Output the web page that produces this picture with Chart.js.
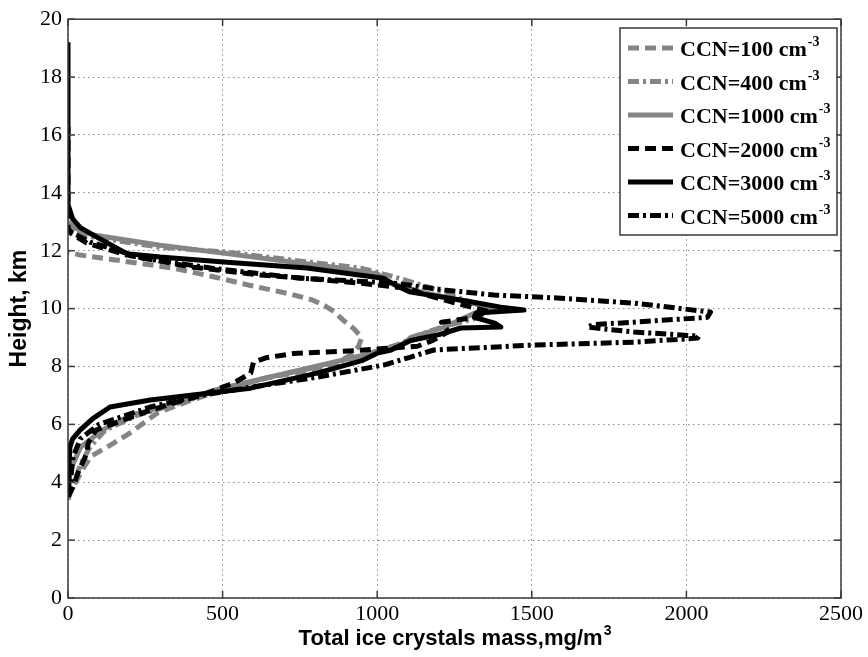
<!DOCTYPE html>
<html>
<head>
<meta charset="utf-8">
<script src="https://cdn.jsdelivr.net/npm/chart.js@4.4.1/dist/chart.umd.min.js"></script>
<style>
  html, body { margin: 0; padding: 0; background: #fff; }
</style>
</head>
<body>
<canvas id="chart" width="868" height="657"></canvas>
<script>
// tick values
var xTicks = [0, 500, 1000, 1500, 2000, 2500];
var yTicks = [0, 2, 4, 6, 8, 10, 12, 14, 16, 18, 20];

// legend labels (CCN concentration, cm^-3)
var ccnValues = ['100', '400', '1000', '2000', '3000', '5000'];

// profiles: height (km) and ice crystal mass (mg/m3)
var h100 = [3.4, 3.7, 4.1, 4.5, 4.9, 5.3, 5.7, 6.05, 6.4, 6.8, 7.2, 7.6, 8.0, 8.4, 8.7, 9.0, 9.3, 9.6, 9.9, 10.1, 10.3, 10.5, 10.8, 11.1, 11.4, 11.7, 11.85, 11.95];
var m100 = [0, 10, 30, 50, 75, 140, 200, 245, 290, 390, 500, 640, 850, 915, 940, 950, 925, 890, 860, 830, 790, 720, 590, 470, 340, 140, 40, 0];

var h400 = [3.5, 4.0, 4.6, 5.2, 5.8, 6.3, 6.8, 7.2, 7.6, 8.0, 8.4, 8.8, 9.0, 9.36, 9.7, 10.0, 10.3, 10.75, 11.1, 11.4, 11.67, 11.95, 12.12, 12.47, 12.6, 12.75];
var m400 = [0, 20, 40, 70, 120, 220, 380, 490, 640, 810, 960, 1080, 1110, 1210, 1330, 1380, 1280, 1163, 1054, 947, 730, 514, 298, 82, 30, 0];

var h1000 = [4.0, 4.6, 5.2, 5.8, 6.3, 6.8, 7.2, 7.6, 8.0, 8.4, 8.8, 9.0, 9.36, 9.84, 10.0, 10.3, 10.6, 10.9, 11.2, 11.4, 11.6, 11.9, 12.19, 12.54, 12.8, 13.0];
var m1000 = [0, 15, 40, 110, 200, 370, 480, 640, 800, 960, 1088, 1108, 1218, 1314, 1380, 1260, 1130, 1040, 1000, 880, 730, 514, 298, 82, 20, 0];

var h2000 = [3.5, 3.83, 4.4, 5.0, 5.35, 5.8, 6.4, 6.7, 7.0, 7.43, 7.77, 8.15, 8.3, 8.45, 8.55, 8.7, 8.9, 9.2, 9.53, 9.66, 9.9, 10.2, 10.5, 10.7, 10.88, 11.05, 11.16, 11.43, 11.85, 12.26, 12.6, 12.8, 16.3];
var m2000 = [0, 16, 35, 61, 65, 90, 244, 330, 430, 536, 591, 600, 640, 730, 930, 1130, 1180, 1230, 1208, 1295, 1360, 1250, 1150, 1100, 946, 761, 622, 405, 191, 61, 10, 0, 0];

var h3000 = [3.9, 4.5, 5.2, 5.5, 5.8, 6.2, 6.6, 6.84, 7.25, 7.77, 8.2, 8.46, 8.57, 8.9, 9.1, 9.33, 9.36, 9.5, 9.7, 9.85, 9.95, 10.05, 10.3, 10.57, 10.8, 11.05, 11.4, 11.6, 11.78, 11.9, 12.54, 12.8, 13.1, 13.4, 13.6, 19.2];
var m3000 = [0, 3, 6, 15, 39, 80, 136, 266, 590, 806, 950, 1000, 1045, 1108, 1200, 1270, 1400, 1380, 1314, 1320, 1475, 1400, 1270, 1108, 1060, 1020, 773, 514, 298, 190, 82, 40, 15, 6, 0, 0];

var h5000 = [3.5, 4.0, 4.87, 5.5, 6.0, 6.6, 7.0, 7.3, 7.63, 8.05, 8.3, 8.57, 8.74, 8.84, 8.98, 9.05, 9.19, 9.36, 9.45, 9.53, 9.7, 9.88, 10.19, 10.36, 10.47, 10.64, 10.88, 11.05, 11.4, 11.74, 12.3, 12.7];
var m5000 = [0, 8, 16, 40, 100, 266, 430, 600, 806, 1021, 1100, 1183, 1507, 1831, 2036, 2040, 1831, 1680, 1700, 1831, 2068, 2078, 1831, 1594, 1378, 1218, 1054, 753, 461, 244, 71, 0];

var GRAY = '#858585';
var BLACK = '#000000';
var DASH = [11, 6];
var DASHDOT = [11, 4, 3, 4];
var SERIF = "'Liberation Serif', 'Times New Roman', serif";
var SANS = "'Liberation Sans', Arial, sans-serif";

Chart.defaults.font.family = SERIF;
Chart.defaults.font.size = 22;
Chart.defaults.color = '#000';

function pts(masses, heights) {
    return masses.map(function(m, i) { return {x: m, y: heights[i]}; });
}

function series(idx, masses, heights, color, dash) {
    return {
        label: 'CCN=' + ccnValues[idx] + ' cm\u207B\u00B3',
        data: pts(masses, heights),
        borderColor: color,
        backgroundColor: color,
        borderWidth: 5,
        borderDash: dash,
        borderCapStyle: 'butt',
        borderJoinStyle: 'round',
        showLine: true,
        pointRadius: 0,
        tension: 0,
        order: 6 - idx
    };
}

// frame, inward ticks, legend and axis titles (MATLAB look)
var decor = {
    id: 'decor',
    afterDraw: function(chart) {
        var ctx = chart.ctx, a = chart.chartArea;
        var xs = chart.scales.x, ys = chart.scales.y;
        ctx.save();

        function seg(x1, y1, x2, y2) {
            ctx.beginPath(); ctx.moveTo(x1, y1); ctx.lineTo(x2, y2); ctx.stroke();
        }

        ctx.strokeStyle = '#3a3a3a';
        ctx.lineWidth = 1.5;
        ctx.setLineDash([]);
        ctx.strokeRect(a.left, a.top, a.right - a.left, a.bottom - a.top);
        xTicks.forEach(function(v) {
            var p = xs.getPixelForValue(v);
            seg(p, a.bottom, p, a.bottom - 7);
            seg(p, a.top, p, a.top + 7);
        });
        yTicks.forEach(function(v) {
            var p = ys.getPixelForValue(v);
            seg(a.left, p, a.left + 7, p);
            seg(a.right, p, a.right - 7, p);
        });

        // legend box
        var bx = 620, by = 28, bw = 217, bh = 207;
        ctx.fillStyle = '#fff';
        ctx.fillRect(bx, by, bw, bh);
        ctx.strokeStyle = '#3a3a3a';
        ctx.lineWidth = 1.5;
        ctx.strokeRect(bx, by, bw, bh);
        chart.data.datasets.forEach(function(ds, i) {
            var yy = 48 + i * 33.5;
            ctx.strokeStyle = ds.borderColor;
            ctx.lineWidth = ds.borderWidth;
            ctx.lineCap = 'butt';
            ctx.setLineDash(ds.borderDash || []);
            seg(628, yy, 673, yy);
            ctx.setLineDash([]);
            ctx.fillStyle = '#000';
            ctx.textBaseline = 'alphabetic';
            ctx.textAlign = 'left';
            ctx.font = 'bold 22px ' + SERIF;
            var base = 'CCN=' + ccnValues[i] + ' cm';
            ctx.fillText(base, 680, yy + 8);
            var w = ctx.measureText(base).width;
            ctx.font = 'bold 14px ' + SERIF;
            ctx.fillText('-3', 680 + w + 1, yy - 2);
        });

        // x title
        ctx.fillStyle = '#000';
        ctx.font = 'bold 22px ' + SANS;
        var xt = 'Total ice crystals mass,mg/m';
        var tw = ctx.measureText(xt).width;
        ctx.font = 'bold 14px ' + SANS;
        var sw = ctx.measureText('3').width;
        var cx = (a.left + a.right) / 2 - (tw + sw) / 2;
        ctx.font = 'bold 22px ' + SANS;
        ctx.textAlign = 'left';
        ctx.fillText(xt, cx, 645);
        ctx.font = 'bold 14px ' + SANS;
        ctx.fillText('3', cx + tw + 1, 635);

        // y title
        ctx.translate(20, (a.top + a.bottom) / 2);
        ctx.rotate(-Math.PI / 2);
        ctx.font = 'bold 23px ' + SANS;
        ctx.textAlign = 'center';
        ctx.textBaseline = 'middle';
        ctx.fillText('Height, km', 0, 0);
        ctx.restore();
    }
};

function plain(v) { return String(v); }

new Chart(document.getElementById('chart').getContext('2d'), {
    type: 'scatter',
    data: {
        datasets: [
            series(0, m100, h100, GRAY, DASH),
            series(1, m400, h400, GRAY, DASHDOT),
            series(2, m1000, h1000, GRAY, []),
            series(3, m2000, h2000, BLACK, DASH),
            series(4, m3000, h3000, BLACK, []),
            series(5, m5000, h5000, BLACK, DASHDOT)
        ]
    },
    options: {
        responsive: false,
        animation: false,
        layout: {padding: {top: 19, right: 27, left: 0, bottom: 0}},
        plugins: {legend: {display: false}, tooltip: {enabled: false}},
        scales: {
            x: {
                type: 'linear', min: 0, max: 2500,
                afterFit: function(s) { s.height = 59; },
                afterBuildTicks: function(s) { s.ticks = xTicks.map(function(v) { return {value: v}; }); },
                ticks: {color: '#000', font: {family: SERIF, size: 22}, padding: 3, maxRotation: 0, callback: plain},
                grid: {color: '#8c8c8c', lineWidth: 1, drawTicks: false},
                border: {display: false, dash: [1.5, 3.5]}
            },
            y: {
                type: 'linear', min: 0, max: 20,
                afterFit: function(s) { s.width = 68; },
                afterBuildTicks: function(s) { s.ticks = yTicks.map(function(v) { return {value: v}; }); },
                ticks: {color: '#000', font: {family: SERIF, size: 22}, padding: 6, callback: plain},
                grid: {color: '#8c8c8c', lineWidth: 1, drawTicks: false},
                border: {display: false, dash: [1.5, 3.5]}
            }
        }
    },
    plugins: [decor]
});
</script>
</body>
</html>
